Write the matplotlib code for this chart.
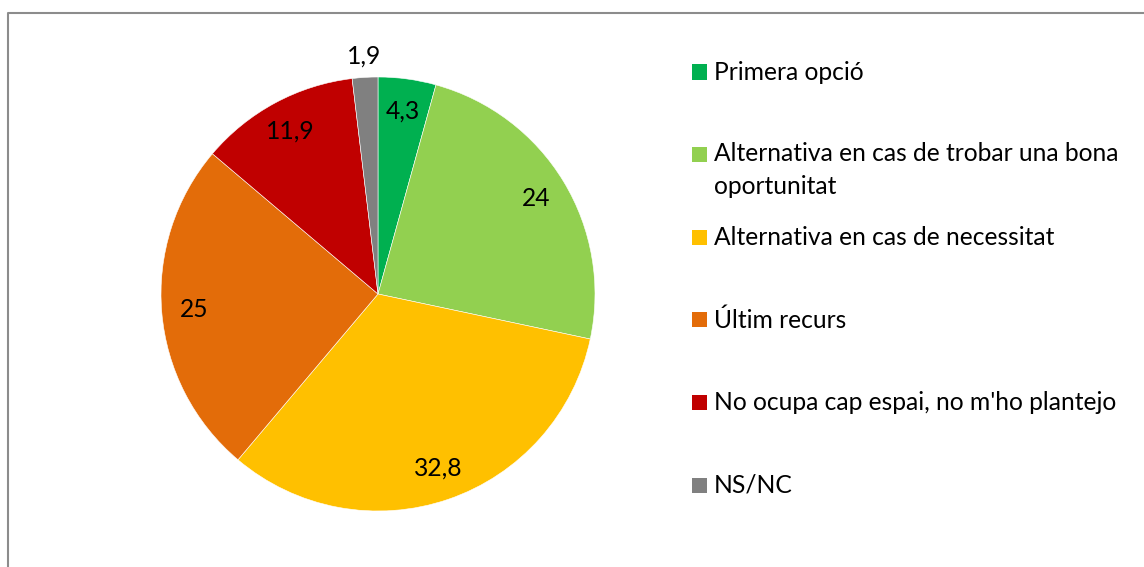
import matplotlib
matplotlib.use("Agg")
import matplotlib.pyplot as plt
from matplotlib.lines import Line2D
from matplotlib.patches import Rectangle
import numpy as np

categories = ["Primera opció",
              "Alternativa en cas de trobar una bona\noportunitat",
              "Alternativa en cas de necessitat",
              "Últim recurs",
              "No ocupa cap espai, no m'ho plantejo",
              "NS/NC"]
values = [4.3, 24, 32.8, 25, 11.9, 1.9]
value_labels = ["4,3", "24", "32,8", "25", "11,9", "1,9"]
colors = ["#00B050", "#92D050", "#FFC000", "#E36C09", "#C00000", "#808080"]

W, H = 1144, 567
FONT = "Lato"
FS = 17.7

fig = plt.figure(figsize=(W / 100, H / 100), dpi=100)
fig.patch.set_facecolor("white")

# border (top and left visible)
fig.add_artist(Line2D([7.5 / W, 7.5 / W, 1.0], [0.0, 1 - 12.5 / H, 1 - 12.5 / H],
                      transform=fig.transFigure, color="#8c8c8c", lw=1.5))

cx, cy, r = 378, 294, 217
ax = fig.add_axes([(cx - r) / W, (H - cy - r) / H, 2 * r / W, 2 * r / H])
wedges, texts = ax.pie(values, colors=colors, startangle=90, counterclock=False,
                       radius=1.0, labels=value_labels, labeldistance=0.85,
                       wedgeprops=dict(edgecolor="white", linewidth=0.4),
                       textprops=dict(fontsize=FS, family=FONT, color="black"))
for t in texts:
    t.set_ha("center")
    t.set_va("center")
# small last slice label placed outside
tot = sum(values)
cum = np.cumsum([0] + values)
mid = (cum[-2] + cum[-1]) / 2 / tot
ang = np.deg2rad(90 - 360 * mid)
texts[-1].set_position((1.10 * np.cos(ang), 1.10 * np.sin(ang)))
ax.set_xlim(-1, 1)
ax.set_ylim(-1, 1)
ax.axis("off")

# legend
y0, dy = 72, 82.6
sq = 15
for i, (lab, col) in enumerate(zip(categories, colors)):
    yc = y0 + i * dy
    fig.add_artist(Rectangle((692 / W, (H - yc - sq / 2) / H), sq / W, sq / H,
                             transform=fig.transFigure, facecolor=col, edgecolor="none"))
    nlines = lab.count("\n") + 1
    ty = yc + (nlines - 1) * 15.5
    fig.text(714 / W, (H - ty) / H, lab, fontsize=FS, family=FONT, color="black",
             ha="left", va="center", linespacing=1.5)

fig.savefig("out.png", dpi=100)
